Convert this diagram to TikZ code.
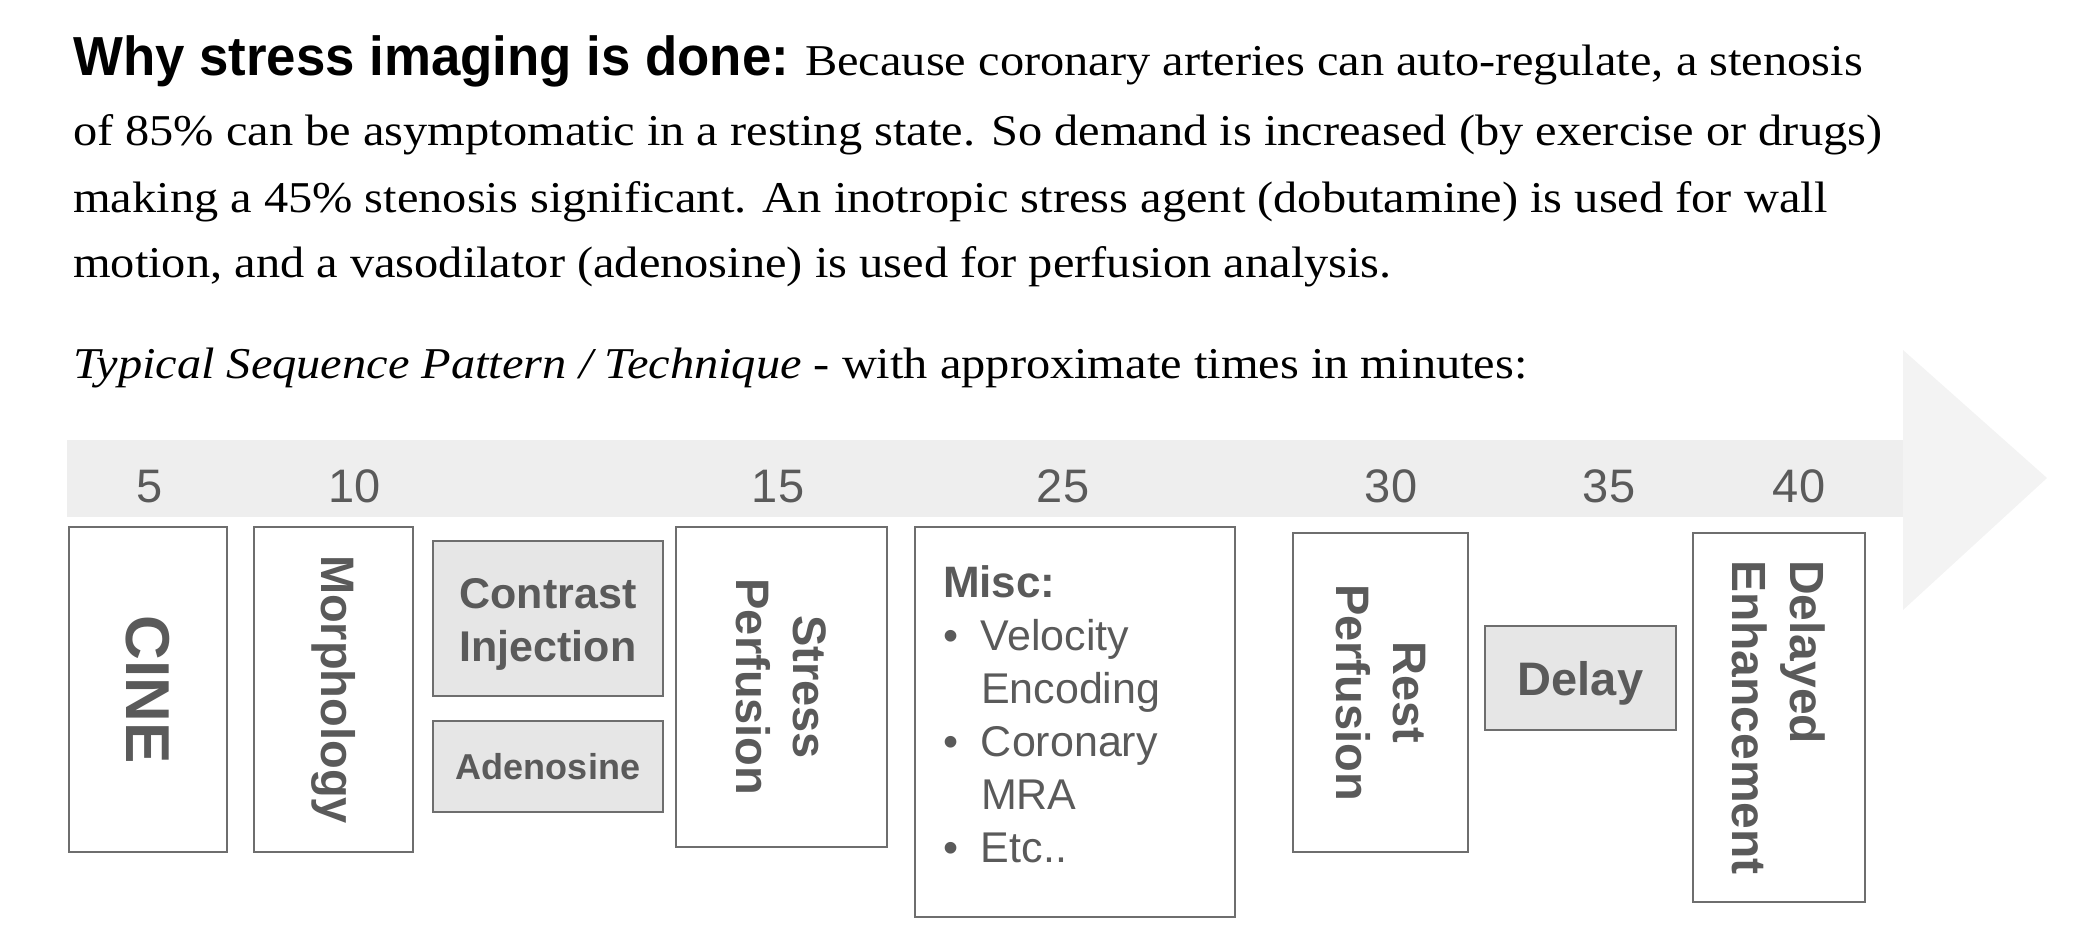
\documentclass[tikz,border=0pt]{standalone}
\usepackage{fontspec}
\usepackage{xcolor}
\usetikzlibrary{positioning}
\setmainfont{Liberation Serif}[FakeStretch=1.1]
\newfontfamily\headsans{Liberation Sans}[FakeStretch=0.96]
\newfontfamily\diagsans{Liberation Sans}
\definecolor{boxgray}{HTML}{6E6E6E}
\definecolor{labelgray}{HTML}{5A5A5A}
\definecolor{agentgray}{HTML}{E6E6E6}
\definecolor{bandgray}{HTML}{EEEEEE}
\definecolor{headgray}{HTML}{F3F3F3}

\begin{document}
\begin{tikzpicture}[
  x=1pt, y=-1pt,
  blurb/.style={anchor=base west, inner sep=0pt, font=\fontsize{44}{67}\selectfont},
  stagebox/.style={draw=boxgray, line width=2.6pt, inner sep=0pt, text=labelgray, align=center, font=\diagsans\bfseries\fontsize{47}{57}\selectfont},
  agentbox/.style={stagebox, fill=agentgray},
  minute/.style={anchor=base, inner sep=0pt, text=labelgray, font=\diagsans\fontsize{47}{47}\selectfont}
]
\useasboundingbox (0,0) rectangle (2080,948);

% explanation text
\node[blurb] (why1) at (73,75) {{\headsans\bfseries\fontsize{55}{67}\selectfont Why stress imaging is done:} Because coronary arteries can auto-regulate, a stenosis};
\node[blurb] (why2) at (73,145) {of 85\% can be asymptomatic in a resting state. So demand is increased (by exercise or drugs)};
\node[blurb] (why3) at (73,212) {making a 45\% stenosis significant. An inotropic stress agent (dobutamine) is used for wall};
\node[blurb] (why4) at (73,277) {motion, and a vasodilator (adenosine) is used for perfusion analysis.};
\node[blurb] (pattern) at (73,378) {\textit{Typical Sequence Pattern / Technique} - with approximate times in minutes:};

% time arrow
\fill[bandgray] (67,440) -- (1903,440) -- (1903,517) -- (67,517) -- cycle;
\fill[headgray] (1903,350) -- (2047,478) -- (1903,610) -- cycle;

\foreach \t/\x in {5/150,10/355,15/778,25/1063,30/1391,35/1609,40/1799}
  \node[minute] (t\t) at (\x,502) {\t};

% sequence blocks
\node[stagebox, rotate=-90, minimum width=325pt, minimum height=158pt, font=\diagsans\bfseries\fontsize{62}{62}\selectfont] (cine) at (148,689.5) {CINE};
\node[stagebox, rotate=-90, minimum width=325pt, minimum height=159pt, font=\diagsans\bfseries\fontsize{47}{50}\selectfont] (morph) at (333.5,689.5) {Morphology};
\node[agentbox, minimum width=230pt, minimum height=155pt, font=\diagsans\bfseries\fontsize{43}{53}\selectfont] (contrast) at (548,618.5) {\rule{0pt}{41pt}Contrast\\Injection};
\node[agentbox, minimum width=230pt, minimum height=91pt, font=\diagsans\bfseries\fontsize{36}{44}\selectfont] (adeno) at (548,766.5) {Adenosine};
\node[stagebox, rotate=-90, minimum width=320pt, minimum height=211pt] (stress) at (781.5,687) {Stress\\Perfusion};
\node[stagebox, minimum width=320pt, minimum height=390pt, align=left, text width=264pt, font=\diagsans\fontsize{43}{53}\selectfont] (misc) at (1075,722)
  {{\bfseries\fontsize{44}{53}\selectfont Misc:}\\
   \makebox[38pt][l]{\textbullet}Velocity\\
   \hspace*{38pt}Encoding\\
   \makebox[38pt][l]{\textbullet}Coronary\\
   \hspace*{38pt}MRA\\
   \makebox[38pt][l]{\textbullet}Etc..\rule[-16pt]{0pt}{16pt}};
\node[stagebox, rotate=-90, minimum width=319pt, minimum height=175pt] (rest) at (1380.5,692.5) {Rest\\Perfusion};
\node[agentbox, minimum width=191pt, minimum height=104pt, text depth=0pt] (delay) at (1580.5,678) {Delay};
\node[stagebox, rotate=-90, align=left, minimum width=369pt, minimum height=172pt, font=\diagsans\bfseries\fontsize{48}{58}\selectfont] (late) at (1779,717.5) {Delayed\\Enhancement};

\end{tikzpicture}
\end{document}
